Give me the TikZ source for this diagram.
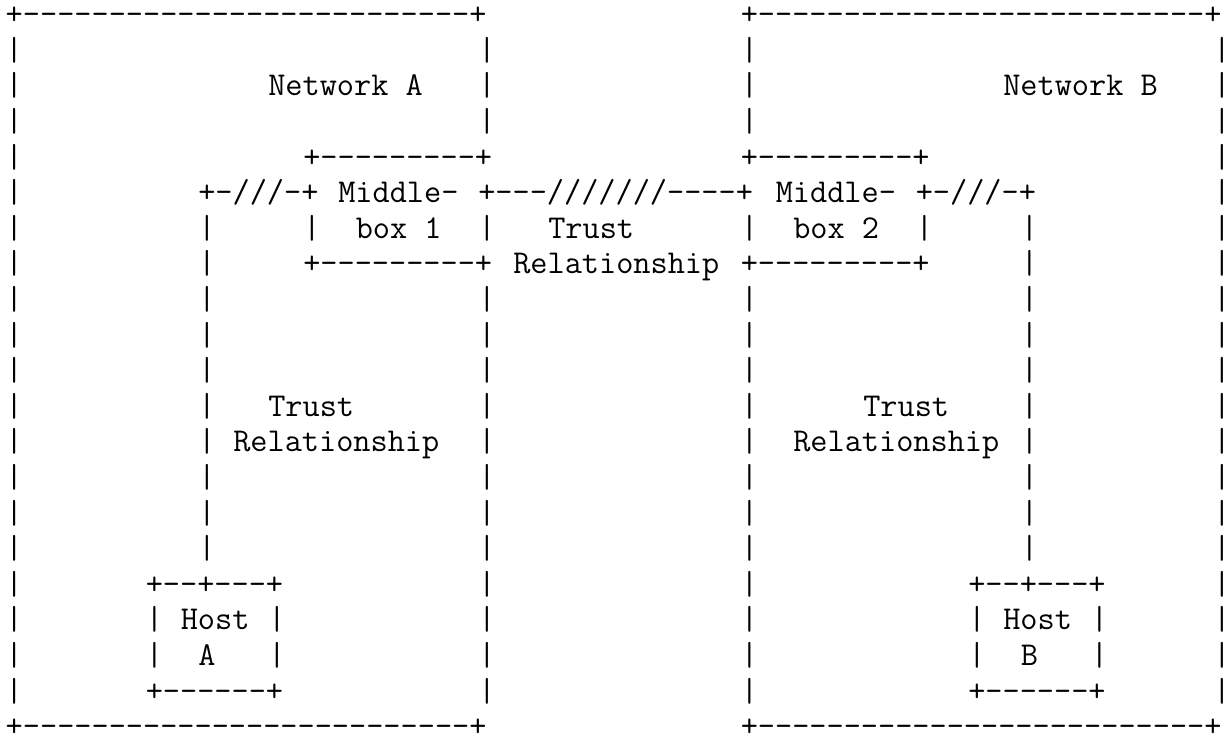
\documentclass[tikz,border=0pt]{standalone}
\usetikzlibrary{calc}
\tikzset{asc/.style={anchor=base west, inner sep=0pt, outer sep=0pt, font=\ttfamily\fontsize{16.67pt}{17.8pt}\selectfont}}

\begin{document}
\begin{tikzpicture}[x=8.75pt, y=-17.8pt]
		\useasboundingbox (-2.875pt,12.35pt) rectangle (612.625pt,-360.15pt);
		
		% network A
		\node[asc] (netAtop) at (0,0) {+--------------------------+};
		\node[asc] (netAbot) at (0,20) {+--------------------------+};
		\node[asc] (netA) at (15,2) {Network A};
		\foreach \r in {1,...,19} \node[asc] (netAw\r) at (0,\r) {|};
		\foreach \r in {1,2,3,6,8,9,...,19} \node[asc] (netAe\r) at (27,\r) {|};
		
		% network B
		\node[asc] (netBtop) at (42,0) {+--------------------------+};
		\node[asc] (netBbot) at (42,20) {+--------------------------+};
		\node[asc] (netB) at (57,2) {Network B};
		\foreach \r in {1,2,3,6,8,9,...,19} \node[asc] (netBw\r) at (42,\r) {|};
		\foreach \r in {1,...,19} \node[asc] (netBe\r) at (69,\r) {|};
		
		% middleboxes
		\node[asc] (mbAtop) at (17,4) {+---------+};
		\node[asc] (mbA) at (19,5) {Middle-};
		\node[asc] (mbAw) at (17,6) {|};
		\node[asc] (mbAbox) at (20,6) {box 1};
		\node[asc] (mbAbot) at (17,7) {+---------+};
		
		\node[asc] (mbBtop) at (42,4) {+---------+};
		\node[asc] (mbB) at (44,5) {Middle-};
		\node[asc] (mbBe) at (52,6) {|};
		\node[asc] (mbBbox) at (45,6) {box 2};
		\node[asc] (mbBbot) at (42,7) {+---------+};
		
		% trust between the middleboxes
		\node[asc] (mbAB) at (27,5) {+---///////----+};
		\node[asc] (trAB) at (31,6) {Trust};
		\node[asc] (relAB) at (29,7) {Relationship};
		
		% hosts and their trust
		\node[asc] (linkA) at (11,5) {+-///-+};
		\node[asc] (linkB) at (52,5) {+-///-+};
		\foreach \r in {6,...,15} {
			\node[asc] (linkA\r) at (11,\r) {|};
			\node[asc] (linkB\r) at (58,\r) {|};
		}
		\node[asc] (trA) at (15,11) {Trust};
		\node[asc] (relA) at (13,12) {Relationship};
		\node[asc] (trB) at (49,11) {Trust};
		\node[asc] (relB) at (45,12) {Relationship};
		
		\node[asc] (hostAtop) at (8,16) {+--+---+};
		\node[asc] (hostA) at (10,17) {Host};
		\node[asc] (hostAname) at (11,18) {A};
		\node[asc] (hostAbot) at (8,19) {+------+};
		\node[asc] (hostBtop) at (55,16) {+--+---+};
		\node[asc] (hostB) at (57,17) {Host};
		\node[asc] (hostBname) at (58,18) {B};
		\node[asc] (hostBbot) at (55,19) {+------+};
		\foreach \r in {17,18} {
			\node[asc] (hostAw\r) at (8,\r) {|};
			\node[asc] (hostAe\r) at (15,\r) {|};
			\node[asc] (hostBw\r) at (55,\r) {|};
			\node[asc] (hostBe\r) at (62,\r) {|};
		}
\end{tikzpicture}
\end{document}
